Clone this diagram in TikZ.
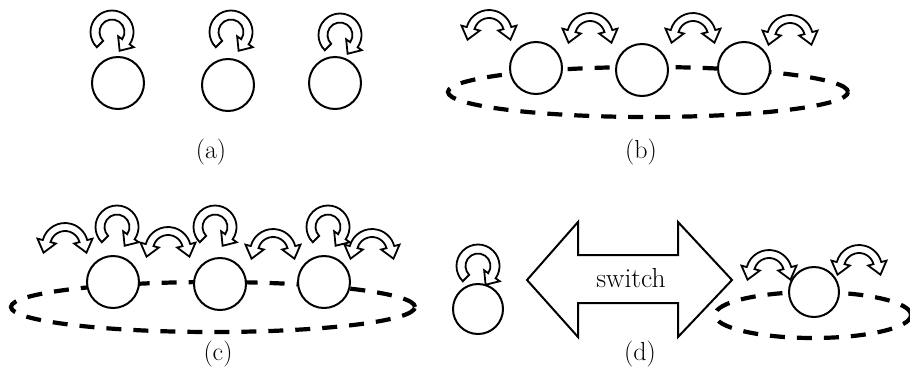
\documentclass[tikz,border=0pt]{standalone}
\usepackage{fontspec}
\begin{document}
\begin{tikzpicture}[x=1pt,y=1pt,
  circ/.style={circle,draw,fill=white,line width=2pt,minimum size=52pt,inner sep=0pt},
  ring/.style={line width=4.2pt,dash pattern=on 15pt off 12pt},
  band/.style={draw,fill=white,line width=1.8pt,line join=miter},
  lbl/.style={font=\fontsize{26}{30}\selectfont,inner sep=0pt},
  bigarrow/.style={draw,fill=white,line width=2pt,line join=miter}]
\newcommand{\selfloop}[2]{\begin{scope}[shift={(#1,-#2)}]
\draw[band] (225:21.5) arc[start angle=225,end angle=-35,radius=21.5pt] -- (-35:26.5)
  -- ({17*cos(-35)+11*cos(-125)},{17*sin(-35)+11*sin(-125)}) -- (-35:7.5) -- (-35:12.5)
  arc[start angle=-35,end angle=225,radius=12.5pt] -- cycle;
\end{scope}}
\newcommand{\dblarc}[2]{\begin{scope}[shift={(#1,-#2)}]
\draw[band] (165:15) -- (165:9.5) -- ({19*cos(165)+12*cos(255)},{19*sin(165)+12*sin(255)})
  -- (165:28.5) -- (165:23) arc[start angle=165,end angle=15,radius=23pt] -- (15:28.5)
  -- ({19*cos(15)+12*cos(-75)},{19*sin(15)+12*sin(-75)}) -- (15:9.5) -- (15:15)
  arc[start angle=15,end angle=165,radius=15pt] -- cycle;
\end{scope}}
\useasboundingbox (0,0) rectangle (910,-389);
% (a)
\node[circ] (a1) at (118,-83) {};
\node[circ] (a2) at (228,-85) {};
\node[circ] (a3) at (335,-83) {};
\selfloop{112}{32}
\selfloop{231}{32}
\selfloop{340}{35}
\node[lbl] (la) at (211,-152) {(a)};
% (b)
\draw[ring] (648,-92) ellipse [x radius=200pt,y radius=25pt];
\node[circ] (b1) at (536,-68) {};
\node[circ] (b2) at (642,-70) {};
\node[circ] (b3) at (744,-68) {};
\dblarc{489}{33}
\dblarc{590}{36}
\dblarc{693}{36}
\dblarc{790}{38}
\node[lbl] (lb) at (641,-152) {(b)};
% (c)
\draw[ring] (213,-307) ellipse [x radius=202pt,y radius=25pt];
\node[circ] (c1) at (113,-282) {};
\node[circ] (c2) at (220,-284) {};
\node[circ] (c3) at (324,-282) {};
\selfloop{117}{227}
\selfloop{215}{227}
\selfloop{328}{227}
\dblarc{65}{246}
\dblarc{168}{250}
\dblarc{273}{252}
\dblarc{372}{252}
\node[lbl] (lc) at (218,-354) {(c)};
% (d)
\draw[ring] (813,-315) ellipse [x radius=98pt,y radius=23pt];
\node[circ,minimum size=50pt] (d1) at (478,-309) {};
\node[circ,minimum size=50pt] (d2) at (814,-292) {};
\selfloop{478}{266}
\dblarc{769}{273}
\dblarc{859}{268}
\draw[bigarrow] (527,-280) -- (578,-222) -- (578,-255) -- (678,-255) -- (678,-222)
  -- (732,-280) -- (678,-337) -- (678,-303) -- (578,-303) -- (578,-337) -- cycle;
\node[font=\fontsize{27.5}{32}\selectfont,inner sep=0pt] (sw) at (631,-278) {switch};
\node[lbl] (ld) at (640,-354) {(d)};
\end{tikzpicture}
\end{document}
